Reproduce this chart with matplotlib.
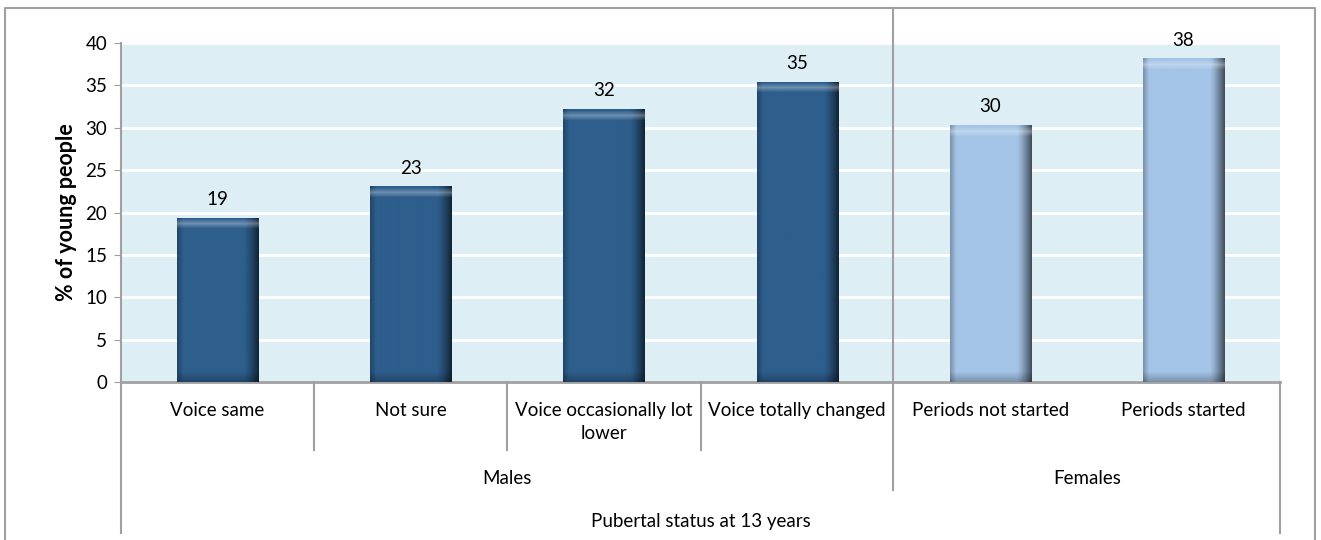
import numpy as np
import matplotlib
matplotlib.use("Agg")
import matplotlib.pyplot as plt
from matplotlib.lines import Line2D
from matplotlib.transforms import blended_transform_factory

plt.rcParams['font.family'] = ['Lato', 'DejaVu Sans']

categories = ["Voice same", "Not sure", "Voice occasionally lot\nlower",
              "Voice totally changed", "Periods not started", "Periods started"]
values = [19.4, 23.1, 32.2, 35.4, 30.3, 38.2]
labels = ["19", "23", "32", "35", "30", "38"]
yticks = [0, 5, 10, 15, 20, 25, 30, 35, 40]

W, H = 1321, 540
fig = plt.figure(figsize=(W / 100, H / 100), dpi=100)
ax = fig.add_axes([121 / W, 1 - 382 / H, (1280 - 121) / W, (382 - 43) / H])

def fx(x):
    return x / W

def fy(y):
    return 1 - y / H

fs = 13.5
grey = "#a0a0a0"
ax.set_facecolor("#deeef5")
ax.set_xlim(-0.5, 5.5)
ax.set_ylim(0, 40)
ax.set_yticks(yticks)
ax.set_xticks([])
ax.tick_params(axis='y', length=5, color=grey, labelsize=fs, pad=5)
for s in ["top", "right"]:
    ax.spines[s].set_visible(False)
ax.spines["left"].set_color(grey)
ax.spines["bottom"].set_color(grey)
ax.spines["left"].set_linewidth(1.5)
ax.spines["bottom"].set_linewidth(2)
ax.grid(axis='y', color="white", linewidth=2)
ax.set_axisbelow(True)
ax.set_ylabel("% of young people", fontsize=15.5, fontweight='bold', labelpad=6)

bar_w = 0.42
dark = np.array([46, 94, 140]) / 255
light = np.array([164, 196, 230]) / 255
cols = [dark, dark, dark, dark, light, light]
x = np.arange(len(values))
bars = ax.bar(x, values, width=bar_w, color=[tuple(c) for c in cols], zorder=2)

# bevelled shading on each bar
fig.canvas.draw()
for b, c in zip(bars, cols):
    x0, y0 = b.get_x(), 0
    x1, y1 = x0 + b.get_width(), b.get_height()
    p0 = ax.transData.transform((x0, y0))
    p1 = ax.transData.transform((x1, y1))
    wpx = int(round(p1[0] - p0[0]))
    hpx = int(round(p1[1] - p0[1]))
    u = np.linspace(0, 1, wpx)
    shade = np.ones(wpx)
    shade -= 0.25 * np.clip(1 - u / 0.07, 0, 1)
    shade -= 0.6 * np.clip((u - 0.82) / 0.18, 0, 1) ** 1.3
    img = np.ones((hpx, wpx, 3)) * c * shade[None, :, None]
    rows = np.arange(hpx)
    top = np.clip(1 - np.abs(rows - 6) / 5, 0, 1)
    img = img + (1 - img) * 0.3 * top[:, None, None]
    bot = np.clip(1 - (hpx - 1 - rows) / 10, 0, 1)
    img = img * (1 - 0.25 * bot[:, None, None])
    img = np.clip(img, 0, 1)
    im = ax.imshow(img, extent=(x0, x1, y0, y1), aspect='auto', zorder=3,
                   interpolation='bilinear')
    im.set_clip_path(b)

ax.set_xlim(-0.5, 5.5)
ax.set_ylim(0, 40)

for xi, v, lab in zip(x, values, labels):
    ax.annotate(lab, (xi, v), xytext=(0, 7), textcoords="offset points",
                ha='center', va='bottom', fontsize=fs)

tr = blended_transform_factory(ax.transData, fig.transFigure)
for xi, cat in zip(x, categories):
    ax.text(xi, fy(402), cat, transform=tr, ha='center', va='top',
            fontsize=fs, linespacing=1.4)

ax.text(1.5, fy(478), "Males", transform=tr, ha='center', va='center', fontsize=fs)
ax.text(4.5, fy(478), "Females", transform=tr, ha='center', va='center', fontsize=fs)
ax.text(2.5, fy(521), "Pubertal status at 13 years", transform=tr, ha='center',
        va='center', fontsize=fs)

# axis separators
def vline(xp, ya, yb, lw=1.5):
    fig.add_artist(Line2D([fx(xp), fx(xp)], [fy(ya), fy(yb)], color=grey, lw=lw))

for xp in [314, 507, 701]:
    vline(xp, 382, 450)
vline(121, 382, 533)
vline(1280, 382, 533)
vline(893, 8, 490)

# outer border
fig.add_artist(Line2D([fx(5), fx(5), fx(1315), fx(1315)],
                      [fy(545), fy(8), fy(8), fy(545)], color=grey, lw=1.5))

fig.savefig("out.png", dpi=100)
